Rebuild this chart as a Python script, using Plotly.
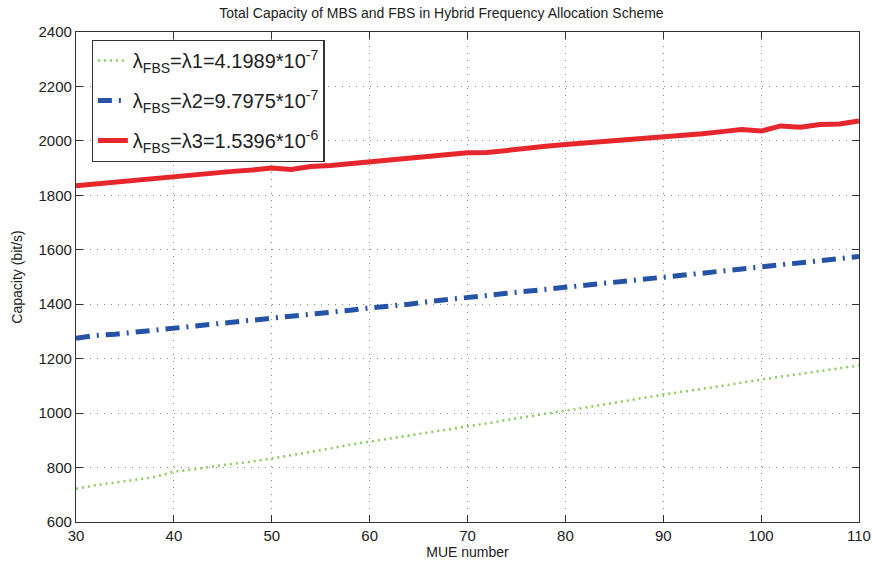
import plotly.graph_objects as go

mue = list(range(30, 111, 2))
cap_l1 = [722, 735, 745, 755, 765, 785, 793, 804, 812, 822, 833, 845, 858, 870, 884, 895,
          905, 917, 928, 940, 952, 962, 975, 986, 996, 1008, 1020, 1032, 1043, 1056, 1068,
          1078, 1090, 1100, 1112, 1124, 1134, 1144, 1154, 1163, 1175]
cap_l2 = [1275, 1285, 1290, 1297, 1305, 1313, 1320, 1328, 1335, 1340, 1348, 1356, 1363, 1370,
          1378, 1386, 1392, 1400, 1410, 1416, 1425, 1432, 1440, 1447, 1455, 1462, 1470, 1478,
          1482, 1490, 1500, 1505, 1514, 1522, 1530, 1537, 1543, 1550, 1560, 1568, 1575]
cap_l3 = [1835, 1842, 1848, 1855, 1862, 1870, 1876, 1882, 1888, 1893, 1900, 1895, 1906, 1910,
          1916, 1922, 1930, 1936, 1942, 1950, 1956, 1957, 1966, 1972, 1980, 1987, 1992, 1998,
          2004, 2010, 2015, 2020, 2026, 2034, 2042, 2036, 2055, 2050, 2060, 2062, 2073]

names = ["λ<sub>FBS</sub>=λ1=4.1989*10<sup>-7</sup>",
         "λ<sub>FBS</sub>=λ2=9.7975*10<sup>-7</sup>",
         "λ<sub>FBS</sub>=λ3=1.5396*10<sup>-6</sup>"]

FONT = "Liberation Sans, Arial, sans-serif"

fig = go.Figure()
fig.add_trace(go.Scatter(x=mue, y=cap_l1, mode="lines", name=names[0], legendgroup="g1",
                         line=dict(color="#8ccb5e", width=2.5, dash="2px,4px")))
fig.add_trace(go.Scatter(x=mue, y=cap_l2, mode="lines", name=names[1], legendgroup="g2",
                         line=dict(color="#2553a8", width=5, dash="14px,7px,2px,7px")))
fig.add_trace(go.Scatter(x=mue, y=cap_l3, mode="lines", name=names[2], legendgroup="g3",
                         line=dict(color="#e8262d", width=5)))

axis_common = dict(
    showline=True, linecolor="#333333", linewidth=1.2, mirror="allticks",
    ticks="inside", ticklen=7, tickcolor="#333333",
    showgrid=True, gridcolor="#8a8a8a", griddash="1px,6px", gridwidth=1.3,
    zeroline=False, tickfont=dict(size=15, color="#222222", family=FONT),
)

fig.update_layout(
    width=883, height=570,
    margin=dict(l=76, r=22, t=32, b=47),
    paper_bgcolor="white", plot_bgcolor="white",
    font=dict(family=FONT, color="#222222"),
    title=dict(text="Total Capacity of MBS and FBS in Hybrid Frequency Allocation Scheme",
               x=0.5, xanchor="center", y=0.985, yanchor="top",
               font=dict(size=14, color="#222222")),
    xaxis=dict(range=[30, 110], tickvals=list(range(30, 111, 10)),
               title=dict(text="MUE number", font=dict(size=14), standoff=4), **axis_common),
    yaxis=dict(range=[600, 2400], tickvals=list(range(600, 2401, 200)),
               title=dict(text="Capacity (bit/s)", font=dict(size=14), standoff=12), **axis_common),
    legend=dict(x=0.02, y=0.984, xanchor="left", yanchor="top",
                bgcolor="white", bordercolor="#333333", borderwidth=1.2,
                font=dict(size=20, color="#222222", family=FONT),
                tracegroupgap=11),
    showlegend=True,
)

fig.write_html("out.html")
